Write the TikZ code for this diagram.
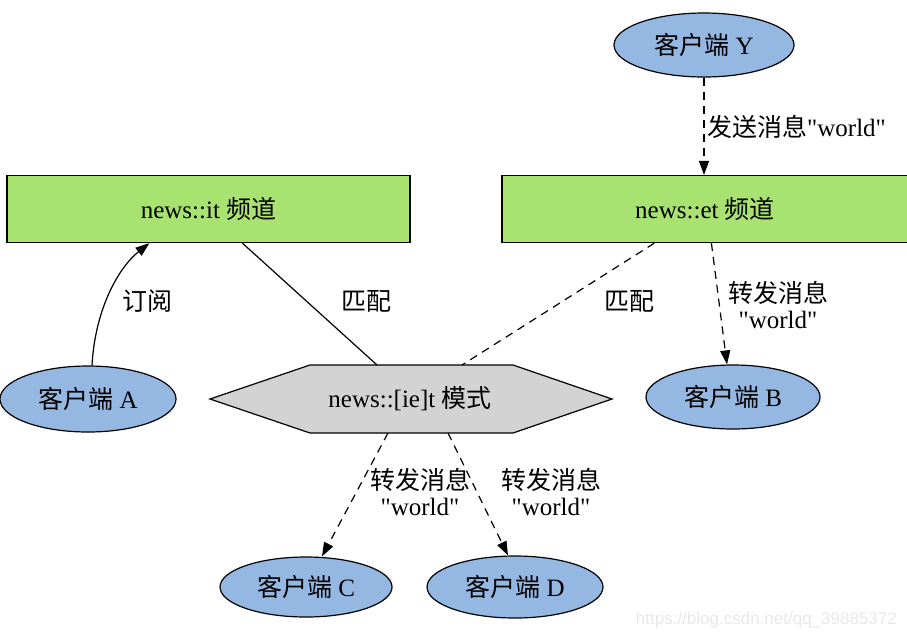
\documentclass[tikz,border=0pt]{standalone}
\usepackage{fontspec}
\setmainfont{Liberation Serif}[Ligatures=TeXOff]
\newfontfamily\cjk{Noto Sans CJK SC}
\newfontfamily\wmfont{Liberation Sans}
\usetikzlibrary{shapes.geometric,arrows.meta,calc}
\newcommand\zh[1]{{\cjk #1}}
\definecolor{nodeblue}{HTML}{95B8E2}
\definecolor{nodegreen}{HTML}{A8E271}
\definecolor{nodegray}{HTML}{D3D3D3}
\definecolor{wmgray}{HTML}{E8E8E8}
\begin{document}
\begin{tikzpicture}[x=1pt,y=-1pt,
  every node/.style={font=\fontsize{25}{29}\selectfont, inner sep=0pt},
  client/.style={ellipse, draw=black, line width=1.2pt, fill=nodeblue},
  chan/.style={rectangle, draw=black, line width=1.2pt, fill=nodegreen, minimum height=67pt},
  conn/.style={line width=1.2pt, draw=black},
  dconn/.style={conn, dash pattern=on 8pt off 6pt},
  tip/.style={-{Triangle[length=14pt,width=10pt]}},
  lbl/.style={align=center}
]
\useasboundingbox (0,0) rectangle (907,638);

% nodes
\node[client, minimum width=180pt, minimum height=64pt] (Y) at (704,45) {\zh{客户端} Y};
\node[chan, minimum width=403pt] (it) at (208.5,209) {news::it \zh{频道}};
\node[chan, minimum width=406pt] (et) at (705,209) {news::et \zh{频道}};
\node[client, minimum width=176pt, minimum height=66pt] (A) at (88,399) {\zh{客户端} A};
\node[client, minimum width=174pt, minimum height=64pt] (B) at (733,397) {\zh{客户端} B};
\node[client, minimum width=172pt, minimum height=60pt] (C) at (306,587) {\zh{客户端} C};
\node[client, minimum width=176pt, minimum height=62pt] (D) at (515,587) {\zh{客户端} D};

% hexagon pattern node
\draw[line width=1.2pt, fill=nodegray] (210,399) -- (310,365) -- (513,365) -- (612,399) -- (513,433) -- (310,433) -- cycle;
\node (hex) at (410,399) {news::[ie]t \zh{模式}};

% connectors
\draw[dconn, tip] (Y.south) -- (Y.south |- et.north);
\node[lbl, anchor=west] (lY) at (707,127) {\zh{发送消息}"world"};

\draw[conn, tip] ($(A.north)+(4,0)$) .. controls (95,310) and (118,268) .. ($(it.south west)+(143,0)$);
\node (lA) at (147,301) {\zh{订阅}};

\draw[conn] ($(it.south west)+(236,0)$) -- ($(hex)+(-33,-34)$);
\node (lm1) at (366,301) {\zh{匹配}};

\draw[dconn] ($(et.south west)+(153,0)$) -- ($(hex)+(52,-34)$);
\node (lm2) at (629,301) {\zh{匹配}};

\draw[dconn, tip] ($(et.south west)+(210,0)$) -- ($(B.north)+(-6,0)$);
\node[lbl] (lB) at (778,305) {\zh{转发消息}\\[-3pt]"world"};

\draw[dconn, tip] ($(hex)+(-22,34)$) -- ($(C.north)+(16,0)$);
\node[lbl] (lC) at (420,492) {\zh{转发消息}\\[-3pt]"world"};

\draw[dconn, tip] ($(hex)+(38,34)$) -- ($(D.north)+(-7,0)$);
\node[lbl] (lD) at (551,492) {\zh{转发消息}\\[-3pt]"world"};

% watermark
\node[anchor=east, text=wmgray, font=\wmfont\fontsize{17}{20}\selectfont] (wm) at (897,620) {https://blog.csdn.net/qq\_39885372};
\end{tikzpicture}
\end{document}
